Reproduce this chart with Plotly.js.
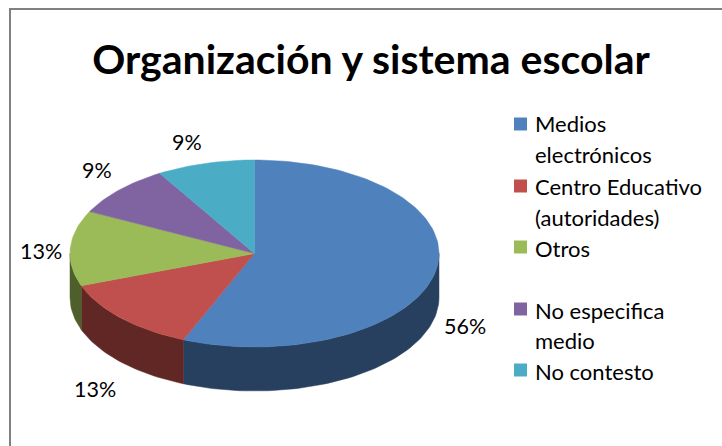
<!DOCTYPE html>
<html><head><meta charset="utf-8">
<script src="https://cdn.plot.ly/plotly-3.0.1.min.js"></script>
<style>html,body{margin:0;padding:0;background:#fff}#c{width:722px;height:446px}</style>
</head><body><div id="c"></div>
<script>
const titleText = "Organización y sistema escolar";
const categories = ["Medios electrónicos","Centro Educativo (autoridades)","Otros","No especifica medio","No contesto"];
const values = [56.3,13.1,13,9,8.6];
const topColors = ["#4F81BD","#C0504D","#9BBB59","#8064A2","#4BACC6"];
const sideColors = ["#28405F","#612725","#4E5F2C","#403251","#265662"];
const legendLines = [["Medios","electrónicos"],["Centro Educativo","(autoridades)"],["Otros"],["No especifica","medio"],["No contesto"]];

// layout geometry (pixels: the axes map 1:1 on to the page)
const cx=254.5, cy=253.5, rx=184.5, ry=93.5, depth=44;
const labelPos=[[465,326],[95,389],[41,251],[97,170],[187,142]];
const legendY=[124,186,247,309,370];
const legendLineY=[[123,154],[186,217],[248],[310,340],[371]];

const total=values.reduce((a,b)=>a+b,0);
const px=a=>cx+rx*Math.sin(a*Math.PI/180);
const py=(a,d)=>cy-ry*Math.cos(a*Math.PI/180)+(d||0);
function arc(a0,a1,d){const X=[],Y=[];const n=Math.max(2,Math.ceil(Math.abs(a1-a0)/1.5));
  for(let i=0;i<=n;i++){const a=a0+(a1-a0)*i/n;X.push(px(a));Y.push(py(a,d));}return [X,Y];}

const traces=[];
let acc=0;const spans=values.map(v=>{const s=[acc,acc+v/total*360];acc=s[1];return s;});
spans.forEach((s,i)=>{
  const a0=Math.max(s[0],90),a1=Math.min(s[1],270);
  if(a1>a0){
    const [tx,ty]=arc(a0,a1,0),[bx,by]=arc(a1,a0,depth);
    traces.push({type:"scatter",mode:"lines",x:tx.concat(bx,[tx[0]]),y:ty.concat(by,[ty[0]]),fill:"toself",
      fillcolor:sideColors[i],line:{color:sideColors[i],width:0.5},hoverinfo:"skip",showlegend:false});
  }
});
spans.forEach((s,i)=>{
  const [tx,ty]=arc(s[0],s[1],0);
  traces.push({type:"scatter",mode:"lines",x:[cx].concat(tx,[cx]),y:[cy].concat(ty,[cy]),fill:"toself",
    fillcolor:topColors[i],line:{color:topColors[i],width:0.5},name:categories[i],hoverinfo:"name",showlegend:false});
});
categories.forEach((c,i)=>{
  traces.push({type:"scatter",mode:"markers",x:[520.5],y:[legendY[i]],name:c,hoverinfo:"name",showlegend:false,
    marker:{symbol:"square",size:13,color:topColors[i],line:{width:0}}});
});

const font="Lato, Carlito, Calibri, sans-serif";
const annotations=[];
values.forEach((v,i)=>annotations.push({x:labelPos[i][0],y:labelPos[i][1],xref:"x",yref:"y",showarrow:false,
  text:Math.round(v/total*100)+"%",font:{family:font,size:21.5,color:"#000"},xanchor:"center",yanchor:"middle"}));
legendLines.forEach((ls,i)=>ls.forEach((t,j)=>annotations.push({x:534,y:legendLineY[i][j],xref:"x",yref:"y",showarrow:false,
  text:t,font:{family:font,size:22,color:"#000"},xanchor:"left",yanchor:"middle",xshift:-1})));

const layout={
  width:722,height:446,margin:{l:0,r:0,t:0,b:0,pad:0},paper_bgcolor:"#fff",plot_bgcolor:"#fff",showlegend:false,
  title:{text:"<b>"+titleText+"</b>",font:{family:font,size:41,color:"#000"},x:371/722,xanchor:"center",y:1-60/446,yanchor:"middle"},
  xaxis:{range:[0,722],visible:false,fixedrange:true},
  yaxis:{range:[446,0],visible:false,fixedrange:true},
  annotations,
  shapes:[
    {type:"line",xref:"x",yref:"y",x0:9,x1:722,y0:9,y1:9,line:{color:"#808080",width:2},layer:"below"},
    {type:"line",xref:"x",yref:"y",x0:10,x1:10,y0:8,y1:446,line:{color:"#808080",width:2},layer:"below"}
  ]
};
Plotly.newPlot("c",traces,layout,{displayModeBar:false,responsive:false});
</script></body></html>
